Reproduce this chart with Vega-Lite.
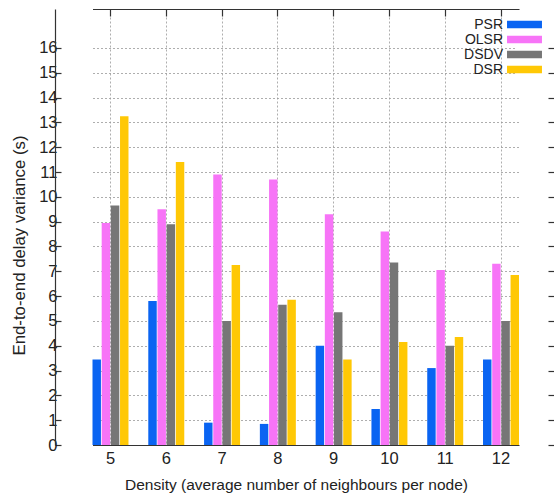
{
  "$schema": "https://vega.github.io/schema/vega-lite/v6.json",
  "width": 499,
  "height": 436,
  "autosize": {"type": "none"},
  "padding": {"left": 55, "top": 9, "right": 0, "bottom": 50},
  "background": "white",
  "config": {
    "view": {"stroke": null},
    "font": "Liberation Sans",
    "axis": {
      "labelFont": "Liberation Sans",
      "titleFont": "Liberation Sans",
      "labelColor": "#222222",
      "titleColor": "#222222",
      "titleFontWeight": "normal",
      "labelFontSize": 16.5,
      "titleFontSize": 16,
      "domainColor": "#333333",
      "domainWidth": 1.2,
      "tickColor": "#333333",
      "tickWidth": 1.2,
      "gridColor": "#999999",
      "gridDash": [2, 2],
      "gridWidth": 0.8
    },
    "legend": {"labelFont": "Liberation Sans"}
  },
  "data": {
    "values": [
      {"density": 5, "protocol": "PSR", "value": 3.45},
      {"density": 5, "protocol": "OLSR", "value": 8.95},
      {"density": 5, "protocol": "DSDV", "value": 9.65},
      {"density": 5, "protocol": "DSR", "value": 13.25},
      {"density": 6, "protocol": "PSR", "value": 5.8},
      {"density": 6, "protocol": "OLSR", "value": 9.5},
      {"density": 6, "protocol": "DSDV", "value": 8.9},
      {"density": 6, "protocol": "DSR", "value": 11.4},
      {"density": 7, "protocol": "PSR", "value": 0.9},
      {"density": 7, "protocol": "OLSR", "value": 10.9},
      {"density": 7, "protocol": "DSDV", "value": 5.0},
      {"density": 7, "protocol": "DSR", "value": 7.25},
      {"density": 8, "protocol": "PSR", "value": 0.85},
      {"density": 8, "protocol": "OLSR", "value": 10.7},
      {"density": 8, "protocol": "DSDV", "value": 5.65},
      {"density": 8, "protocol": "DSR", "value": 5.85},
      {"density": 9, "protocol": "PSR", "value": 4.0},
      {"density": 9, "protocol": "OLSR", "value": 9.3},
      {"density": 9, "protocol": "DSDV", "value": 5.35},
      {"density": 9, "protocol": "DSR", "value": 3.45},
      {"density": 10, "protocol": "PSR", "value": 1.45},
      {"density": 10, "protocol": "OLSR", "value": 8.6},
      {"density": 10, "protocol": "DSDV", "value": 7.35},
      {"density": 10, "protocol": "DSR", "value": 4.15},
      {"density": 11, "protocol": "PSR", "value": 3.1},
      {"density": 11, "protocol": "OLSR", "value": 7.05},
      {"density": 11, "protocol": "DSDV", "value": 4.0},
      {"density": 11, "protocol": "DSR", "value": 4.35},
      {"density": 12, "protocol": "PSR", "value": 3.45},
      {"density": 12, "protocol": "OLSR", "value": 7.3},
      {"density": 12, "protocol": "DSDV", "value": 5.0},
      {"density": 12, "protocol": "DSR", "value": 6.85}
    ]
  },
  "layer": [
    {
      "mark": {"type": "bar"},
      "encoding": {
        "x": {
          "field": "density",
          "type": "ordinal",
          "scale": {"range": [37.5, 464], "paddingInner": 0.355, "paddingOuter": 0},
          "axis": {
            "orient": "bottom",
            "title": "Density (average number of neighbours per node)",
            "titleFontSize": 15.5,
            "labelAngle": 0,
            "labelPadding": 5,
            "ticks": false,
            "domain": true,
            "titleX": 241,
            "titleY": 39,
            "titleBaseline": "middle",
            "grid": true
          }
        },
        "xOffset": {
          "field": "protocol",
          "type": "nominal",
          "sort": ["PSR", "OLSR", "DSDV", "DSR"],
          "scale": {"paddingInner": 0.08, "paddingOuter": 0}
        },
        "y": {
          "field": "value",
          "type": "quantitative",
          "scale": {"domain": [0, 17.57], "nice": false},
          "axis": {
            "orient": "left",
            "title": "End-to-end delay variance (s)",
            "titleFontSize": 16.8,
            "values": [0, 1, 2, 3, 4, 5, 6, 7, 8, 9, 10, 11, 12, 13, 14, 15, 16],
            "ticks": true,
            "tickSize": -6,
            "labelPadding": 4,
            "domain": true,
            "titleX": -36,
            "titleY": 236,
            "titleBaseline": "middle",
            "grid": true
          }
        },
        "color": {
          "field": "protocol",
          "type": "nominal",
          "sort": ["PSR", "OLSR", "DSDV", "DSR"],
          "scale": {
            "domain": ["PSR", "OLSR", "DSDV", "DSR"],
            "range": ["#0a64f2", "#f774f7", "#767676", "#ffc805"]
          },
          "legend": {
            "title": null,
            "orient": "none",
            "legendX": 462,
            "legendY": 8,
            "symbolType": "M-2.33,-0.5H2.33V0.5H-2.33Z",
            "symbolSize": 225,
            "symbolStrokeWidth": 0,
            "labelAlign": "right",
            "labelOffset": -29,
            "labelFontSize": 14,
            "labelColor": "#222222",
            "rowPadding": 0,
            "padding": 0,
            "fillColor": "white"
          }
        }
      }
    },
    {
      "mark": {"type": "bar", "opacity": 0},
      "encoding": {
        "x": {
          "field": "density",
          "type": "ordinal",
          "scale": {"range": [37.5, 464], "paddingInner": 0.355, "paddingOuter": 0},
          "axis": {
            "orient": "top",
            "title": null,
            "labels": false,
            "ticks": true,
            "tickSize": -7,
            "domain": true,
            "grid": false
          }
        },
        "y": {
          "field": "value",
          "type": "quantitative",
          "scale": {"domain": [0, 17.57], "nice": false},
          "axis": {
            "orient": "right",
            "title": null,
            "labels": false,
            "values": [0, 1, 2, 3, 4, 5, 6, 7, 8, 9, 10, 11, 12, 13, 14, 15, 16],
            "ticks": true,
            "tickSize": -6,
            "domain": false,
            "grid": false
          }
        }
      }
    }
  ],
  "resolve": {"axis": {"x": "independent", "y": "independent"}}
}
